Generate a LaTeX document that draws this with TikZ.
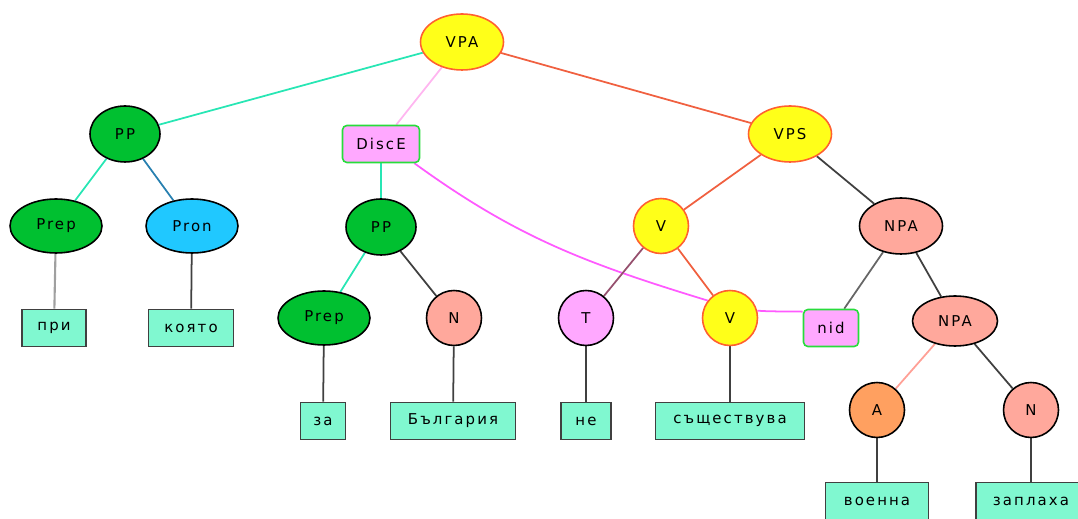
\documentclass[tikz,border=0pt]{standalone}
\usepackage{fontspec}
\setmainfont{DejaVu Sans}[LetterSpace=14]
\usetikzlibrary{shapes.geometric, backgrounds}

% node fills
\definecolor{catyellow}{RGB}{255,255,25}
\definecolor{catorange}{RGB}{255,96,48}
\definecolor{catgreen}{RGB}{0,192,48}
\definecolor{catblue}{RGB}{32,200,255}
\definecolor{catpink}{RGB}{255,168,255}
\definecolor{catsalmon}{RGB}{255,168,156}
\definecolor{catadj}{RGB}{255,160,96}
\definecolor{tracegreen}{RGB}{40,220,60}
\definecolor{wordfill}{RGB}{128,248,208}
% link colours
\definecolor{linkaqua}{RGB}{40,230,180}
\definecolor{linkrose}{RGB}{255,182,240}
\definecolor{linkred}{RGB}{240,96,64}
\definecolor{linkblue}{RGB}{40,128,176}
\definecolor{linkgray}{RGB}{160,160,160}
\definecolor{linkdark}{RGB}{64,64,64}
\definecolor{linkmagenta}{RGB}{255,90,255}
\definecolor{linkmauve}{RGB}{150,80,110}
\definecolor{linksalmon}{RGB}{255,160,150}

\tikzset{
  cat/.style={ellipse, draw=black, line width=0.9pt, inner sep=0pt},
  verb/.style={cat, draw=catorange, fill=catyellow},
  big/.style={minimum width=1.66cm, minimum height=1.12cm},
  wide/.style={minimum width=1.84cm, minimum height=1.08cm},
  small/.style={minimum width=1.4cm, minimum height=1.12cm},
  round/.style={minimum width=1.1cm, minimum height=1.1cm},
  word/.style={rectangle, draw=linkdark, fill=wordfill, line width=1pt,
    minimum height=0.74cm, inner xsep=1pt},
  trace/.style={rectangle, rounded corners=2.5pt, draw=tracegreen, fill=catpink,
    line width=0.9pt, minimum height=0.74cm, inner xsep=1pt},
  link/.style={line width=1pt}
}

\begin{document}
\begin{tikzpicture}[x=0.02cm, y=-0.02cm, font=\fontsize{8.5}{10}\selectfont]
  \useasboundingbox (0,0) rectangle (1078,519);

  % phrase nodes
  \node[verb, big] (vpa) at (462,42) {VPA};
  \node[cat, small, fill=catgreen] (pp1) at (125,134) {PP};
  \node[trace, minimum width=1.54cm] (disc) at (381,144) {DiscE};
  \node[verb, big] (vps) at (790,134) {VPS};

  \node[cat, wide, fill=catgreen] (prep1) at (56,226) {Prep};
  \node[cat, wide, fill=catblue] (pron) at (192,226) {Pron};
  \node[cat, small, fill=catgreen] (pp2) at (381,227) {PP};
  \node[verb, round] (v1) at (661,226) {V};
  \node[cat, big, fill=catsalmon] (npa1) at (901,226) {NPA};

  \node[cat, wide, fill=catgreen] (prep2) at (324,318) {Prep};
  \node[cat, round, fill=catsalmon] (n1) at (454,318) {N};
  \node[cat, round, fill=catpink] (t) at (586,318) {T};
  \node[verb, round] (v2) at (730,318) {V};
  \node[trace, minimum width=1.1cm] (nid) at (831,328) {nid};
  \node[cat, minimum width=1.7cm, minimum height=1.0cm, fill=catsalmon] (npa2) at (955,321) {NPA};

  \node[cat, round, fill=catadj] (a) at (877,410) {A};
  \node[cat, round, fill=catsalmon] (n2) at (1031,410) {N};

  % words
  \node[word, minimum width=1.28cm] (w1) at (54,328) {при};
  \node[word, minimum width=1.7cm] (w2) at (191,328) {която};
  \node[word, minimum width=0.9cm] (w3) at (323,421) {за};
  \node[word, minimum width=2.5cm] (w4) at (453,421) {България};
  \node[word, minimum width=1.0cm] (w5) at (586,421) {не};
  \node[word, minimum width=2.98cm] (w6) at (730,421) {съществува};
  \node[word, minimum width=2.06cm] (w7) at (877,501) {военна};
  \node[word, minimum width=2.2cm] (w8) at (1031,501) {заплаха};

  \begin{scope}[on background layer]
    \draw[link, linkaqua] (vpa) -- (pp1);
    \draw[link, linkrose] (vpa) -- (disc);
    \draw[link, linkred] (vpa) -- (vps);
    \draw[link, linkaqua] (pp1) -- (prep1);
    \draw[link, linkblue] (pp1) -- (pron);
    \draw[link, linkaqua] (disc) -- (pp2);
    \draw[link, linkmagenta] (disc.-30) to[out=-36, in=163] (v2.142);
    \draw[link, linkmagenta] (v2.15) to[out=-4, in=178] (nid.150);
    \draw[link, linkaqua] (pp2) -- (prep2);
    \draw[link, linkdark] (pp2) -- (n1);
    \draw[link, linkred] (vps) -- (v1);
    \draw[link, linkdark] (vps) -- (npa1);
    \draw[link, linkmauve] (v1) -- (t);
    \draw[link, linkred] (v1) -- (v2);
    \draw[link, linkdark!80] (npa1) -- (nid);
    \draw[link, linkdark] (npa1) -- (npa2);
    \draw[link, linksalmon] (npa2) -- (a);
    \draw[link, linkdark] (npa2) -- (n2);
    \draw[link, linkgray, line width=1.2pt] (prep1) -- (w1);
    \draw[link, linkdark] (pron) -- (w2);
    \draw[link, linkdark] (prep2) -- (w3);
    \draw[link, linkdark] (n1) -- (w4);
    \draw[link, linkdark] (t) -- (w5);
    \draw[link, linkdark] (v2) -- (w6);
    \draw[link, linkdark] (a) -- (w7);
    \draw[link, linkdark] (n2) -- (w8);
  \end{scope}
\end{tikzpicture}
\end{document}
